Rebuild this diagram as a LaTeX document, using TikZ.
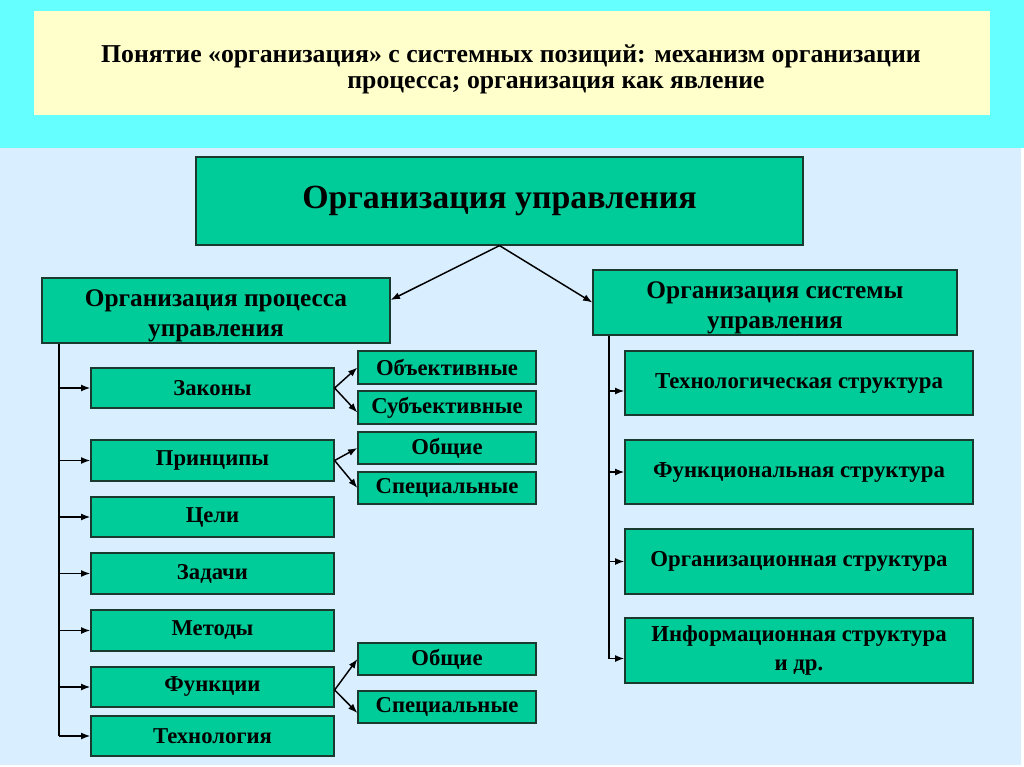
\documentclass[tikz,border=0pt]{standalone}
\usepackage{fontspec}
\setmainfont{Liberation Serif}
\usetikzlibrary{arrows.meta,calc}
\definecolor{cyanbg}{HTML}{66FFFF}
\definecolor{yelbox}{HTML}{FFFFCC}
\definecolor{bluebg}{HTML}{D9EFFF}
\definecolor{teal}{HTML}{00CC99}
\definecolor{edge}{HTML}{1A3A30}
\tikzset{
  box/.style={draw=edge,line width=0.9pt,fill=teal,inner sep=0pt,align=center,font=\bfseries},
  arr/.style={line width=1.1pt,-{Latex[length=7pt,width=5.2pt]}},
  trunk/.style={line width=1.1pt},
}
\newcommand\bx[7][]{\node[box,minimum width={(#5-#3)*0.75pt},minimum height={(#6-#4)*0.75pt},#1] (#2) at ({(#3+#5)/2},{(#4+#6)/2}) {#7};}
\begin{document}
\begin{tikzpicture}[x=0.75pt,y=-0.75pt]
\useasboundingbox (0,0) rectangle (1024,767);
\fill[white] (0,0) rectangle (1024,767);
\fill[cyanbg] (0,0) rectangle (1024,148);
\fill[bluebg] (0,148) rectangle (1021,765);
\fill[yelbox] (34,11) rectangle (990,115);
\node[font=\fontsize{19.3}{23}\selectfont\bfseries] (t1) at (511,56) {Понятие «организация» с системных позиций: механизм организации};
\node[font=\fontsize{19.3}{23}\selectfont\bfseries] (t2) at (556,85) {процесса; организация как явление};

\bx[font=\fontsize{25.4}{30}\selectfont\bfseries]{top}{196}{157}{803}{245}{Организация управления}
\bx[font=\fontsize{19}{22.5}\selectfont\bfseries]{lp}{42}{278}{390}{343}{\raisebox{-3.75pt}[\height][\depth]{\begin{tabular}{@{}c@{}}Организация процесса\\[0.5pt]управления\end{tabular}}}
\bx[font=\fontsize{19}{22.5}\selectfont\bfseries]{rp}{593}{270}{957}{335}{\raisebox{-3.75pt}[\height][\depth]{\begin{tabular}{@{}c@{}}Организация системы\\[0.5pt]управления\end{tabular}}}

\tikzset{lbox/.style={font=\fontsize{17}{20}\selectfont\bfseries}, sbox/.style={font=\fontsize{17}{20}\selectfont\bfseries}, rbox/.style={font=\fontsize{17.1}{21.7}\selectfont\bfseries}}
\bx[lbox]{law}{91}{368}{334}{408}{Законы}
\bx[lbox]{pri}{91}{440}{334}{481}{Принципы}
\bx[lbox]{goal}{91}{497}{334}{537}{Цели}
\bx[lbox]{task}{91}{553}{334}{594}{Задачи}
\bx[lbox]{meth}{91}{610}{334}{651}{Методы}
\bx[lbox]{func}{91}{667}{334}{707}{Функции}
\bx[lbox]{tech}{91}{716}{334}{756}{Технология}

\bx[sbox]{obj}{358}{351}{536}{384}{Объективные}
\bx[sbox]{subj}{358}{391}{536}{424}{Субъективные}
\bx[sbox]{gen1}{358}{432}{536}{464}{Общие}
\bx[sbox]{spec1}{358}{472}{536}{504}{Специальные}
\bx[sbox]{gen2}{358}{643}{536}{675}{Общие}
\bx[sbox]{spec2}{358}{691}{536}{723}{Специальные}

\bx[rbox]{rtech}{625}{351}{973}{415}{Технологическая структура}
\bx[rbox]{rfunc}{625}{440}{973}{504}{Функциональная структура}
\bx[rbox]{rorg}{625}{529}{973}{594}{Организационная структура}
\bx[rbox]{rinfo}{625}{618}{973}{683}{Информационная структура\\и др.}

% top fan
\draw[arr] (top.south) -- (lp.east |- {(0,300)});
\draw[arr] (top.south) -- (rp.west);

% left trunk
\coordinate (lx) at (59,0);
\draw[trunk] (lp.south -| lx) -- (lx |- tech.west);
\foreach \n in {law,pri,goal,task,meth,func,tech}
  \draw[arr] (lx |- \n.west) -- (\n.west);

% sub fans
\draw[arr] (law.east) -- (obj.west);
\draw[arr] (law.east) -- ($(subj.west)+(0,5)$);
\draw[arr] (pri.east) -- (gen1.west);
\draw[arr] (pri.east) -- (spec1.west);
\draw[arr] ($(func.east)+(0,3)$) -- (gen2.west);
\draw[arr] ($(func.east)+(0,3)$) -- ($(spec2.west)+(0,6)$);

% right trunk
\coordinate (rx) at (609,0);
\draw[trunk] (rp.south -| rx) -- ($(rx |- rinfo.west)+(0,8)$);
\draw[arr] ($(rx |- rtech.west)+(0,8)$) -- ($(rtech.west)+(0,8)$);
\draw[arr] (rx |- rfunc.west) -- (rfunc.west);
\draw[arr] (rx |- rorg.west) -- (rorg.west);
\draw[arr] ($(rx |- rinfo.west)+(0,8)$) -- ($(rinfo.west)+(0,8)$);
\end{tikzpicture}
\end{document}
